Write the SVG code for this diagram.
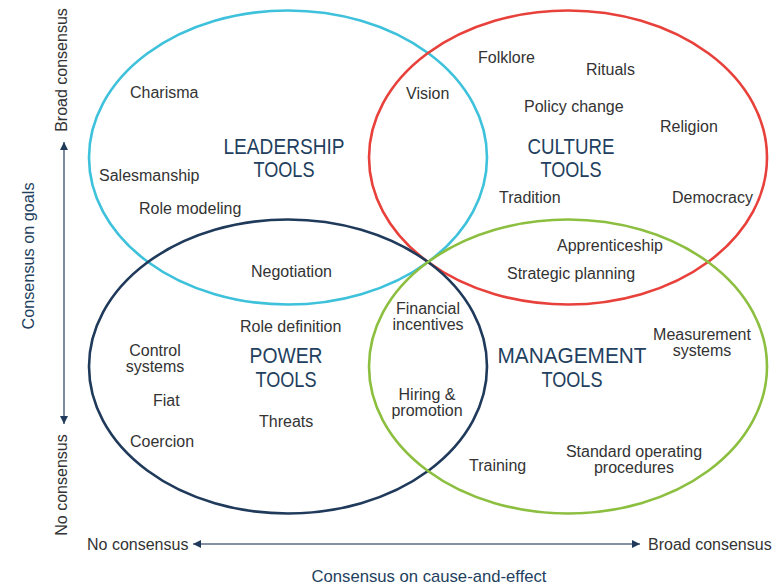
<svg xmlns="http://www.w3.org/2000/svg" width="784" height="587" viewBox="0 0 784 587">
<style>
.ring{fill:none;stroke-width:2.6}
.item{font-family:"Liberation Sans",Arial,sans-serif;font-size:16px;fill:#333}
.title{font-family:"Liberation Sans",Arial,sans-serif;font-size:22px;fill:#233f60;text-anchor:middle}
.axlab{font-family:"Liberation Sans",Arial,sans-serif;font-size:17px;fill:#233f60;text-anchor:middle}
.mid{text-anchor:middle}
.axis{stroke:#5b6f86;stroke-width:1.6;fill:none}
</style>
<defs>
<marker id="ah" viewBox="0 0 10 10" refX="10" refY="5" markerWidth="10" markerHeight="8" markerUnits="userSpaceOnUse" orient="auto-start-reverse">
<path d="M0,0 L10,5 L0,10 z" fill="#1f3a5a"/>
</marker>
</defs>
<rect width="784" height="587" fill="#fff"/>

<g id="leadership">
<ellipse class="ring" cx="288" cy="157.5" rx="199" ry="147" stroke="#3ec1db"/>
<text class="title" x="284" y="154" textLength="121" lengthAdjust="spacingAndGlyphs">LEADERSHIP</text>
<text class="title" x="284" y="177" textLength="61" lengthAdjust="spacingAndGlyphs">TOOLS</text>
</g>
<g id="culture">
<ellipse class="ring" cx="568" cy="157.5" rx="199" ry="147" stroke="#e8403a"/>
<text class="title" x="571" y="154" textLength="87" lengthAdjust="spacingAndGlyphs">CULTURE</text>
<text class="title" x="571" y="177" textLength="61" lengthAdjust="spacingAndGlyphs">TOOLS</text>
</g>
<g id="power">
<ellipse class="ring" cx="288" cy="366.5" rx="199" ry="147" stroke="#1f3a5a"/>
<text class="title" x="286" y="363" textLength="73" lengthAdjust="spacingAndGlyphs">POWER</text>
<text class="title" x="286" y="387" textLength="61" lengthAdjust="spacingAndGlyphs">TOOLS</text>
</g>
<g id="management">
<ellipse class="ring" cx="568" cy="366.5" rx="199" ry="147" stroke="#8cbf3f"/>
<text class="title" x="572" y="363" textLength="149" lengthAdjust="spacingAndGlyphs">MANAGEMENT</text>
<text class="title" x="572" y="387" textLength="61" lengthAdjust="spacingAndGlyphs">TOOLS</text>
</g>

<g id="items">
<text class="item" x="130" y="98">Charisma</text>
<text class="item" x="406" y="99">Vision</text>
<text class="item" x="478" y="63">Folklore</text>
<text class="item" x="586" y="75">Rituals</text>
<text class="item" x="524" y="112">Policy change</text>
<text class="item" x="660" y="132">Religion</text>
<text class="item" x="99" y="181">Salesmanship</text>
<text class="item" x="139" y="214">Role modeling</text>
<text class="item" x="499" y="203">Tradition</text>
<text class="item" x="672" y="203">Democracy</text>
<text class="item" x="557" y="251">Apprenticeship</text>
<text class="item" x="507" y="279">Strategic planning</text>
<text class="item" x="251" y="277">Negotiation</text>
<text class="item" x="240" y="332">Role definition</text>
<text class="item mid" x="428" y="314">Financial</text>
<text class="item mid" x="428" y="330">incentives</text>
<text class="item mid" x="155" y="356">Control</text>
<text class="item mid" x="155" y="372">systems</text>
<text class="item mid" x="702" y="340">Measurement</text>
<text class="item mid" x="702" y="356">systems</text>
<text class="item" x="153" y="406">Fiat</text>
<text class="item mid" x="427" y="400">Hiring &amp;</text>
<text class="item mid" x="427" y="416">promotion</text>
<text class="item" x="259" y="427">Threats</text>
<text class="item" x="130" y="447">Coercion</text>
<text class="item" x="469" y="471">Training</text>
<text class="item mid" x="634" y="457">Standard operating</text>
<text class="item mid" x="634" y="473">procedures</text>
</g>

<g id="axes">
<line class="axis" x1="64" y1="142" x2="64" y2="424" marker-start="url(#ah)" marker-end="url(#ah)"/>
<line class="axis" x1="193" y1="544" x2="640" y2="544" marker-start="url(#ah)" marker-end="url(#ah)"/>
</g>
<g id="axis-labels">
<text class="item mid" transform="translate(67,70) rotate(-90)">Broad consensus</text>
<text class="item mid" transform="translate(67,485) rotate(-90)">No consensus</text>
<text class="axlab" transform="translate(34,256) rotate(-90)" textLength="147" lengthAdjust="spacingAndGlyphs">Consensus on goals</text>
<text class="item" x="87" y="550">No consensus</text>
<text class="item" x="648" y="550">Broad consensus</text>
<text class="axlab" x="429" y="582" textLength="235" lengthAdjust="spacingAndGlyphs">Consensus on cause-and-effect</text>
</g>
</svg>
